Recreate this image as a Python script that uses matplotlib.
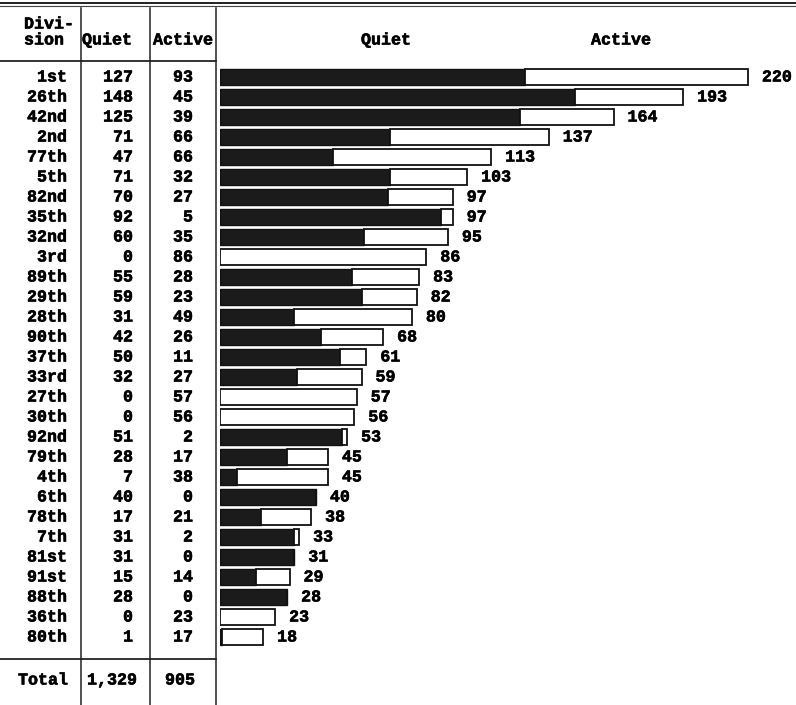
import matplotlib.pyplot as plt
import matplotlib.patheffects as pe

plt.rcParams['font.family'] = ['Liberation Mono', 'DejaVu Sans Mono']
plt.rcParams['font.weight'] = 'bold'
plt.rcParams['font.size'] = 12

# data
divisions = ['1st', '26th', '42nd', '2nd', '77th', '5th', '82nd', '35th', '32nd',
             '3rd', '89th', '29th', '28th', '90th', '37th', '33rd', '27th', '30th',
             '92nd', '79th', '4th', '6th', '78th', '7th', '81st', '91st', '88th',
             '36th', '80th']
quiet = [127, 148, 125, 71, 47, 71, 70, 92, 60, 0, 55, 59, 31, 42, 50, 32, 0, 0,
         51, 28, 7, 40, 17, 31, 31, 15, 28, 0, 1]
active = [93, 45, 39, 66, 66, 32, 27, 5, 35, 86, 28, 23, 49, 26, 11, 27, 57, 56,
          2, 17, 38, 0, 21, 2, 0, 14, 0, 23, 17]
total_quiet = '1,329'
total_active = '905'

W, H = 796, 705
fig = plt.figure(figsize=(W / 100, H / 100), dpi=100)

# row i sits at pixel y = 77 + 20*i
y_top = (0 - 77) / 20
y_bot = (H - 77) / 20

tab = fig.add_axes([0, 0, 1, 1])
tab.set_xlim(0, W)
tab.set_ylim(y_bot, y_top)
tab.axis('off')

ax = fig.add_axes([220 / W, 0, (W - 220) / W, 1])
ax.set_xlim(0, (W - 220) / 2.4)
ax.set_ylim(y_bot, y_top)
ax.axis('off')
ax.patch.set_alpha(0)

rows = list(range(len(divisions)))
tot = [q + a for q, a in zip(quiet, active)]

ax.barh(rows, quiet, height=0.77, color='#1b1b1b', edgecolor='#111111', lw=1)
ax.barh(rows, active, left=quiet, height=0.77, color='white', edgecolor='#111111', lw=1.3)
for i, t in enumerate(tot):
    ax.annotate(str(t), (t, i), xytext=(10, 0), textcoords='offset points',
                va='center', ha='left')

ax.text((386 - 220) / 2.4, -1.85, 'Quiet', ha='center', va='center')
ax.text((621 - 220) / 2.4, -1.85, 'Active', ha='center', va='center')

# table
tab.text(24, -2.65, 'Divi-', ha='left', va='center')
tab.text(24, -1.85, 'sion', ha='left', va='center')
tab.text(107, -1.85, 'Quiet', ha='center', va='center')
tab.text(183, -1.85, 'Active', ha='center', va='center')
for i, d in enumerate(divisions):
    tab.text(67, i, d, ha='right', va='center')
    tab.text(133, i, str(quiet[i]), ha='right', va='center')
    tab.text(193, i, str(active[i]), ha='right', va='center')
tab.text(68, 30.15, 'Total', ha='right', va='center')
tab.text(137, 30.15, total_quiet, ha='right', va='center')
tab.text(180, 30.15, total_active, ha='center', va='center')

# slightly heavier typewriter look
for t in tab.texts + ax.texts:
    t.set_path_effects([pe.withStroke(linewidth=0.4, foreground='black')])

# rules
tab.plot([0, W], [-3.7, -3.7], color='#222222', lw=1.4)
tab.plot([0, W], [-3.55, -3.55], color='#444444', lw=0.8)
tab.plot([0, 216], [-0.8, -0.8], color='#222222', lw=1.3)
tab.plot([0, 216], [29.1, 29.1], color='#222222', lw=1.3)
for xv in [81, 150, 216]:
    tab.plot([xv, xv], [-3.45, y_bot], color='#222222', lw=1.1)

fig.savefig('out.png', dpi=100, facecolor='white')
